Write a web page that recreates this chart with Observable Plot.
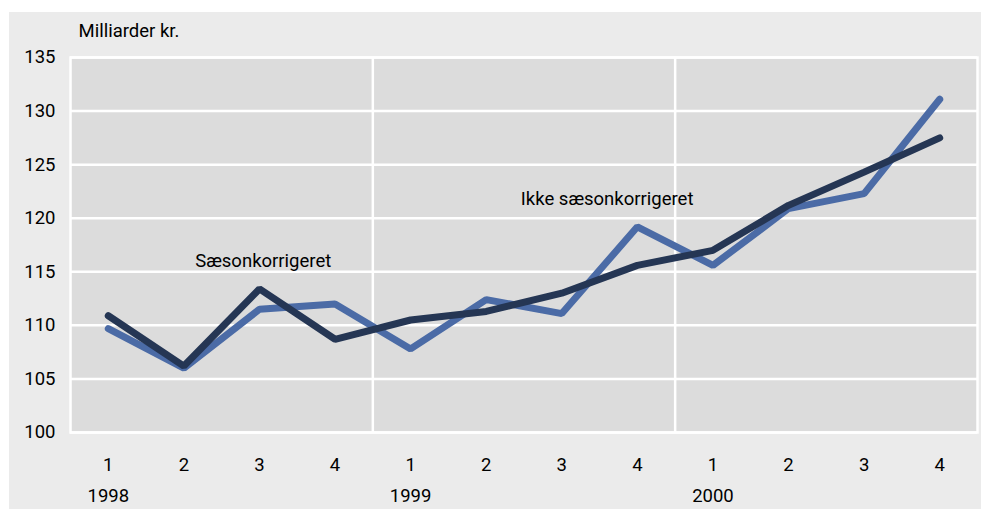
<!DOCTYPE html>
<html>
<head>
<meta charset="utf-8">
<script src="https://cdn.jsdelivr.net/npm/d3@7"></script>
<script src="https://cdn.jsdelivr.net/npm/@observablehq/plot@0.6"></script>
<style>
  html, body { margin: 0; padding: 0; background: #ffffff; }
  #wrap { position: relative; width: 981px; height: 510px; }
  #bg { position: absolute; left: 9px; top: 12px; right: 0; bottom: 1px; background: #ebebeb; }
  #chart { position: absolute; left: 0; top: 0; }
</style>
</head>
<body>
<div id="wrap"><div id="bg"></div><div id="chart"></div></div>
<script>
const quarters = ["1","2","3","4","1","2","3","4","1","2","3","4"];
const years = ["1998","1999","2000"];
const ikkeSaeson = [109.7, 106.0, 111.5, 112.0, 107.8, 112.4, 111.1, 119.2, 115.6, 120.9, 122.3, 131.1];
const saeson     = [110.9, 106.2, 113.4, 108.7, 110.5, 111.3, 113.0, 115.6, 117.0, 121.2, 124.3, 127.5];
const yTicks = [100, 105, 110, 115, 120, 125, 130, 135];

const idx = quarters.map((_, i) => i);
const dataIkke = idx.map(i => ({i, v: ikkeSaeson[i]}));
const dataSaeson = idx.map(i => ({i, v: saeson[i]}));

const font = "Roboto, 'Open Sans', sans-serif";
const fs = 18.5;

const chart = Plot.plot({
  width: 981,
  height: 510,
  marginLeft: 70,
  marginRight: 4,
  marginTop: 57,
  marginBottom: 78,
  style: {fontFamily: font, fontSize: fs + "px", color: "#000", background: "transparent"},
  x: {domain: [-0.5, 11.5], axis: null},
  y: {domain: [100, 135], axis: null},
  marks: [
    Plot.frame({fill: "#dcdcdc"}),
    Plot.ruleY(yTicks, {stroke: "#ffffff", strokeWidth: 2.5}),
    Plot.ruleX([3.5, 7.5], {stroke: "#ffffff", strokeWidth: 2.5}),
    Plot.frame({stroke: "#ffffff", strokeWidth: 2.5}),
    Plot.axisY({ticks: yTicks, tickSize: 0, tickPadding: 15, label: null, fontSize: fs}),
    Plot.axisX({ticks: idx, tickFormat: i => quarters[i], tickSize: 0, tickPadding: 25, label: null, fontSize: fs}),
    Plot.axisX({ticks: [0, 4, 8], tickFormat: i => years[i / 4], tickSize: 0, tickPadding: 56, label: null, fontSize: fs}),
    Plot.text(["Milliarder kr."], {frameAnchor: "top-left", dx: 8, dy: -34, textAnchor: "start", fontSize: fs, fill: "#000"}),
    Plot.line(dataIkke, {x: "i", y: "v", stroke: "#4b6ba6", strokeWidth: 7, strokeLinecap: "round", strokeLinejoin: "miter"}),
    Plot.line(dataSaeson, {x: "i", y: "v", stroke: "#253654", strokeWidth: 7, strokeLinecap: "round", strokeLinejoin: "miter"}),
    Plot.text([{x: 2.05, y: 116.0, t: "Sæsonkorrigeret"}], {x: "x", y: "y", text: "t", fontSize: fs, fill: "#000"}),
    Plot.text([{x: 6.6, y: 121.8, t: "Ikke sæsonkorrigeret"}], {x: "x", y: "y", text: "t", fontSize: fs, fill: "#000"})
  ]
});
document.getElementById("chart").appendChild(chart);
</script>
</body>
</html>
